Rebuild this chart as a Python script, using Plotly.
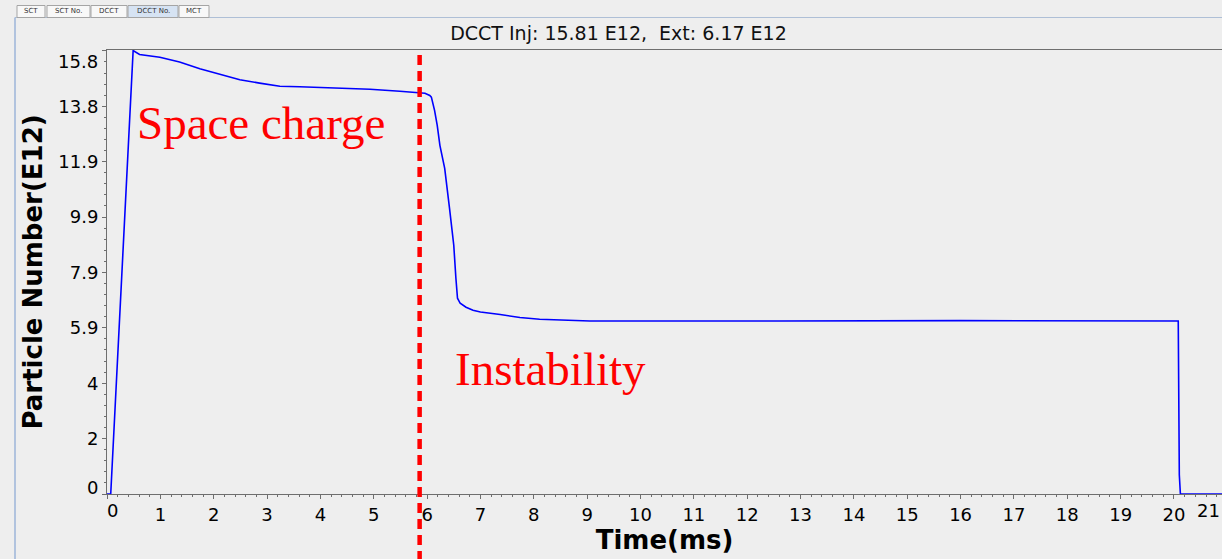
import plotly.graph_objects as go

# ---------------- data ----------------
time_ms = [0.0, 0.07, 0.49, 0.61, 0.99, 1.36, 1.74, 2.11, 2.49, 2.86, 3.24, 3.61,
           4.36, 4.93, 5.49, 5.83, 5.96, 6.05, 6.08, 6.14, 6.19, 6.24, 6.33, 6.42,
           6.50, 6.54, 6.57, 6.62, 6.73, 6.86, 7.00, 7.37, 7.74, 8.11, 9.05, 12.0,
           12.4, 12.6, 16.0, 20.08, 20.10, 20.12, 20.9]
particles_e12 = [0.0, 0.0, 15.81, 15.67, 15.57, 15.40, 15.16, 14.98, 14.77, 14.65, 14.54, 14.52,
                 14.47, 14.43, 14.36, 14.31, 14.29, 14.21, 14.15, 13.68, 13.14, 12.43, 11.61, 10.19,
                 8.87, 7.69, 6.98, 6.80, 6.66, 6.55, 6.49, 6.40, 6.29, 6.23, 6.17, 6.17,
                 6.155, 6.17, 6.18, 6.17, 0.68, 0.0, 0.0]

y_tick_vals = [0, 1.975, 3.95, 5.925, 7.9, 9.875, 11.85, 13.825, 15.8]
y_tick_text = ["", "2", "4", "5.9", "7.9", "9.9", "11.9", "13.8", ""]
y_bottom_label = "0"
y_top_label = "15.8"
x_tick_vals = list(range(0, 21))
x_tick_text = [""] + [str(v) for v in range(1, 21)]
x_first_label = "0"
x_last_label = "21"

boundary_ms = 5.86
title_text = "DCCT Inj: 15.81 E12,\u00a0 Ext: 6.17 E12"
tabs = ["SCT", "SCT No.", "DCCT", "DCCT No.", "MCT"]
tab_edges_px = [(17, 45), (47, 90), (91, 127), (128, 178), (179, 209)]
selected_tab = "DCCT No."

# ---------------- layout geometry ----------------
W, H = 1222, 559
L, R, T, B = 107, 0, 50, 65


def pxx(xp):
    return (xp - L) / (W - L - R)


def pxy(yp):
    return (H - B - yp) / (H - T - B)


BG = "#eeeeee"
AXIS = "#6e6e6e"
TICKFONT = dict(family="DejaVu Sans", size=18, color="black")

fig = go.Figure()
fig.add_trace(go.Scatter(
    x=time_ms, y=particles_e12, mode="lines",
    line=dict(color="#0000ff", width=1.6), hoverinfo="skip", showlegend=False))

shapes = []
annotations = []

# tab strip
shapes.append(dict(type="line", xref="paper", yref="paper",
                   x0=pxx(15), x1=pxx(W + 5), y0=pxy(17.5), y1=pxy(17.5),
                   line=dict(color="#aebfd6", width=1)))
shapes.append(dict(type="line", xref="paper", yref="paper",
                   x0=pxx(15), x1=pxx(15), y0=pxy(17.5), y1=pxy(H + 5),
                   line=dict(color="#9db5d8", width=1.5)))
for name, (a, b) in zip(tabs, tab_edges_px):
    sel = name == selected_tab
    shapes.append(dict(type="rect", xref="paper", yref="paper",
                       x0=pxx(a), x1=pxx(b), y0=pxy(17.5), y1=pxy(5.5),
                       fillcolor="#d6e3f3" if sel else "#f8f8f8",
                       line=dict(color="#a5a5a5", width=1), layer="above"))
    annotations.append(dict(xref="paper", yref="paper", x=pxx((a + b) / 2), y=pxy(11.5),
                            text=name, showarrow=False, xanchor="center", yanchor="middle",
                            font=dict(family="DejaVu Sans", size=7, color="#333333")))

# dashed red boundary
shapes.append(dict(type="line", xref="x", yref="paper",
                   x0=boundary_ms, x1=boundary_ms, y0=pxy(H + 2), y1=1,
                   line=dict(color="#ff0000", width=4.5, dash="10px,6px"), layer="above"))

# red labels
annotations.append(dict(xref="x", yref="y", x=0.53, y=13.21, text="Space charge",
                        showarrow=False, xanchor="left", yanchor="middle",
                        font=dict(family="Liberation Serif", size=47, color="#ff0000")))
annotations.append(dict(xref="x", yref="y", x=6.49, y=4.45, text="Instability",
                        showarrow=False, xanchor="left", yanchor="middle",
                        font=dict(family="Liberation Serif", size=47, color="#ff0000")))

# end labels that sit slightly inside the axis ends
annotations.append(dict(xref="paper", yref="y", x=0, y=15.8, text=y_top_label,
                        showarrow=False, xanchor="right", yanchor="middle",
                        xshift=-7, yshift=-11, font=TICKFONT))
annotations.append(dict(xref="paper", yref="y", x=0, y=0, text=y_bottom_label,
                        showarrow=False, xanchor="right", yanchor="middle",
                        xshift=-7, yshift=7, font=TICKFONT))
annotations.append(dict(xref="x", yref="paper", x=0, y=0, text=x_first_label,
                        showarrow=False, xanchor="center", yanchor="top",
                        xshift=5, yshift=-4, font=TICKFONT))
annotations.append(dict(xref="paper", yref="paper", x=1, y=0, text=x_last_label,
                        showarrow=False, xanchor="right", yanchor="top",
                        xshift=0, yshift=-4, font=TICKFONT))

fig.update_layout(
    width=W, height=H,
    margin=dict(l=L, r=R, t=T, b=B, pad=0),
    paper_bgcolor=BG, plot_bgcolor=BG,
    showlegend=False,
    title=dict(text=title_text, xref="container", yref="container",
               x=618.5 / W, y=1 - 33 / H, xanchor="center", yanchor="middle",
               font=dict(family="DejaVu Sans", size=19, color="#111111")),
    shapes=shapes, annotations=annotations,
    xaxis=dict(range=[0, 20.9], tickmode="array", tickvals=x_tick_vals, ticktext=x_tick_text,
               showgrid=False, zeroline=False, showline=True, mirror=True,
               linecolor=AXIS, linewidth=1,
               ticks="outside", ticklen=4, tickcolor=AXIS,
               minor=dict(ticks="outside", ticklen=2, tickcolor=AXIS, dtick=0.2, tick0=0),
               tickfont=TICKFONT,
               title=dict(text="<b>Time(ms)</b>", standoff=6,
                          font=dict(family="DejaVu Sans", size=26, color="black"))),
    yaxis=dict(range=[0, 15.83], tickmode="array", tickvals=y_tick_vals, ticktext=y_tick_text,
               showgrid=False, zeroline=False, showline=True,
               linecolor=AXIS, linewidth=1,
               ticks="outside", ticklen=4, tickcolor=AXIS,
               minor=dict(ticks="outside", ticklen=2, tickcolor=AXIS, dtick=0.395, tick0=0),
               tickfont=TICKFONT,
               title=dict(text="<b>Particle Number(E12)</b>", standoff=8,
                          font=dict(family="DejaVu Sans", size=26, color="black"))),
)

fig.write_html("out.html")
